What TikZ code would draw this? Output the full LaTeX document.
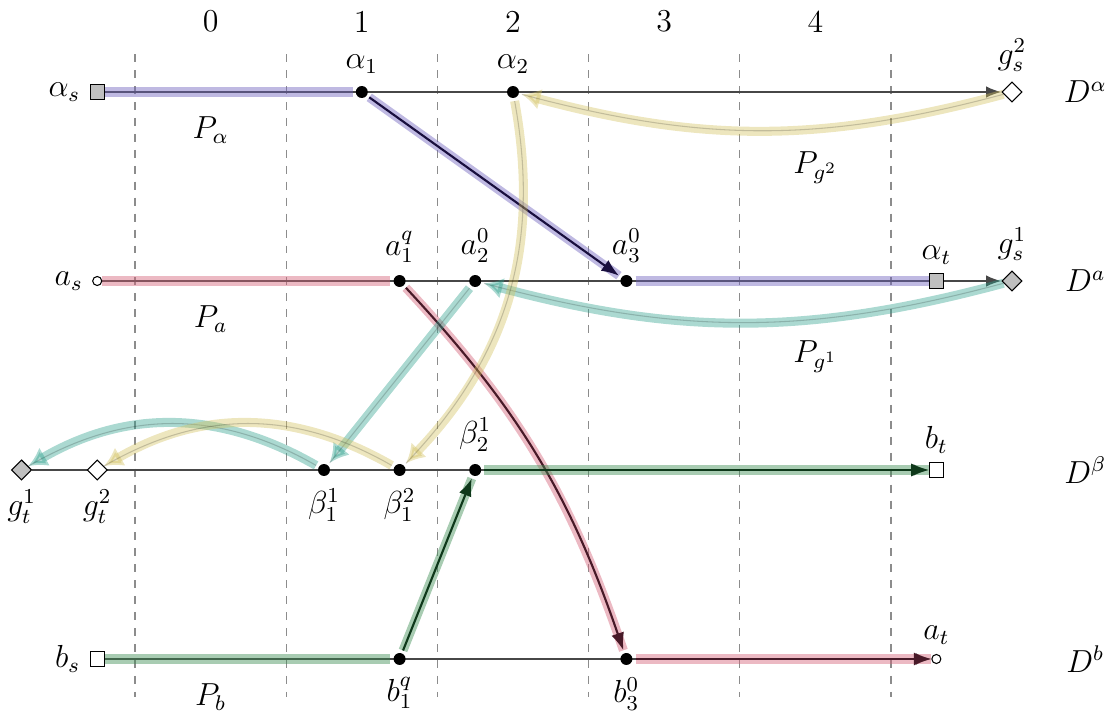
\documentclass[tikz,border=0pt]{standalone}
\usetikzlibrary{arrows.meta,shapes.geometric,backgrounds}

\definecolor{hviolet}{RGB}{112,100,190}
\definecolor{hred}{RGB}{212,100,122}
\definecolor{hgreen}{RGB}{62,142,84}
\definecolor{hteal}{RGB}{44,160,140}
\definecolor{hyellow}{RGB}{210,192,92}
\definecolor{kviolet}{RGB}{25,15,62}
\definecolor{kred}{RGB}{72,26,40}
\definecolor{kgreen}{RGB}{14,56,26}

\begin{document}
\begin{tikzpicture}[
  >=Latex,
  font=\large,
  dot/.style={circle,fill=black,inner sep=0pt,minimum size=4.5pt,outer sep=1.2pt},
  sqnode/.style={draw,fill=white,inner sep=0pt,minimum size=5.3pt},
  cnode/.style={circle,draw,fill=white,inner sep=0pt,minimum size=3.4pt},
  dianode/.style={diamond,draw,fill=white,inner sep=0pt,minimum size=7.6pt},
  colsep/.style={dashed,black!45,thin},
  base/.style={semithick,black!72},
  hl/.style={line width=3.4pt,draw=#1,draw opacity=.45},
  soft/.style={line width=3.4pt,draw=#1,opacity=.4,-{Latex[length=7pt,width=8pt]}},
  faint/.style={draw=black,draw opacity=.18,thin},
  ink/.style={->,line width=.8pt,draw=#1}
]
\useasboundingbox (-1.786,-0.714) rectangle (12.937,8.717);

% column numbers
\foreach \i in {0,...,4}
  \node (col\i) at (2*\i+1,8.43) {\i};

% row D^alpha
\node[sqnode,fill=black!25,label=left:$\alpha_s$] (as) at (-0.5,7.5) {};
\node[dot,label=above:$\alpha_1$] (al1) at (3,7.5) {};
\node[dot,label=above:$\alpha_2$] (al2) at (5,7.5) {};
\node[dianode,label=above:$g_s^2$] (gs2) at (11.6,7.5) {};
\node (Dal) at (12.57,7.5) {$D^\alpha$};

% row D^a
\node[cnode,label=left:$a_s$] (aS) at (-0.5,5) {};
\node[dot,label=above:$a_1^q$] (a1) at (3.5,5) {};
\node[dot,label=above:$a_2^0$] (a2) at (4.5,5) {};
\node[dot,label=above:$a_3^0$] (a3) at (6.5,5) {};
\node[sqnode,fill=black!25,label=above:$\alpha_t$] (alt) at (10.6,5) {};
\node[dianode,fill=black!25,label=above:$g_s^1$] (gs1) at (11.6,5) {};
\node (Da) at (12.57,5) {$D^a$};

% row D^beta
\node[dianode,fill=black!25,label=below:$g_t^1$] (gt1) at (-1.5,2.5) {};
\node[dianode,label=below:$g_t^2$] (gt2) at (-0.5,2.5) {};
\node[dot,label=below:$\beta_1^1$] (be11) at (2.5,2.5) {};
\node[dot,label=below:$\beta_1^2$] (be12) at (3.5,2.5) {};
\node[dot,label=above:$\beta_2^1$] (be21) at (4.5,2.5) {};
\node[sqnode,label=above:$b_t$] (bt) at (10.6,2.5) {};
\node (Dbe) at (12.57,2.5) {$D^\beta$};

% row D^b
\node[sqnode,label=left:$b_s$] (bS) at (-0.5,0) {};
\node[dot,label=below:$b_1^q$] (b1) at (3.5,0) {};
\node[dot,label=below:$b_3^0$] (b3) at (6.5,0) {};
\node[cnode,label=above:$a_t$] (at) at (10.6,0) {};
\node (Db) at (12.57,0) {$D^b$};

% path names
\node (Pal) at (1,7) {$P_\alpha$};
\node (Pa) at (1,4.5) {$P_a$};
\node (Pb) at (1,-0.5) {$P_b$};
\node (Pg2) at (9,6.5) {$P_{g^2}$};
\node (Pg1) at (9,4.0) {$P_{g^1}$};

\begin{scope}[on background layer]
\foreach \x in {0,2,...,10}
  \draw[colsep] (\x,8) -- (\x,-0.5);

% base lines
\draw[base,->] (as) -- (gs2);
\draw[base,->] (aS) -- (gs1);
\draw[base,->] (gt1) -- (bt);
\draw[base,->] (bS) -- (at);

% P_alpha
\draw[hl=hviolet] (as) -- (al1);
\draw[hl=hviolet] (al1) -- (a3);
\draw[hl=hviolet] (a3) -- (alt);
\draw[ink=kviolet] (al1) -- (a3);

% P_a
\draw[hl=hred] (aS) -- (a1);
\draw[hl=hred] (a1) to[bend left=12] (b3);
\draw[hl=hred] (b3) -- (at);
\draw[ink=kred] (a1) to[bend left=12] (b3);
\draw[ink=kred] (b3) -- (at);

% P_b
\draw[hl=hgreen] (bS) -- (b1);
\draw[hl=hgreen] (b1) -- (be21);
\draw[hl=hgreen] (be21) -- (bt);
\draw[ink=kgreen] (b1) -- (be21);
\draw[ink=kgreen] (be21) -- (bt);

% P_{g^1}
\draw[soft=hteal] (gs1) to[bend left=15] (a2);
\draw[soft=hteal] (a2) -- (be11);
\draw[soft=hteal] (be11) to[bend right=30] (gt1);
\draw[faint] (gs1) to[bend left=15] (a2);
\draw[faint] (a2) -- (be11);
\draw[faint] (be11) to[bend right=30] (gt1);

% P_{g^2}
\draw[soft=hyellow] (gs2) to[bend left=15] (al2);
\draw[soft=hyellow] (al2) to[bend left=27] (be12);
\draw[soft=hyellow] (be12) to[bend right=30] (gt2);
\draw[faint] (gs2) to[bend left=15] (al2);
\draw[faint] (al2) to[bend left=27] (be12);
\draw[faint] (be12) to[bend right=30] (gt2);
\end{scope}
\end{tikzpicture}
\end{document}
